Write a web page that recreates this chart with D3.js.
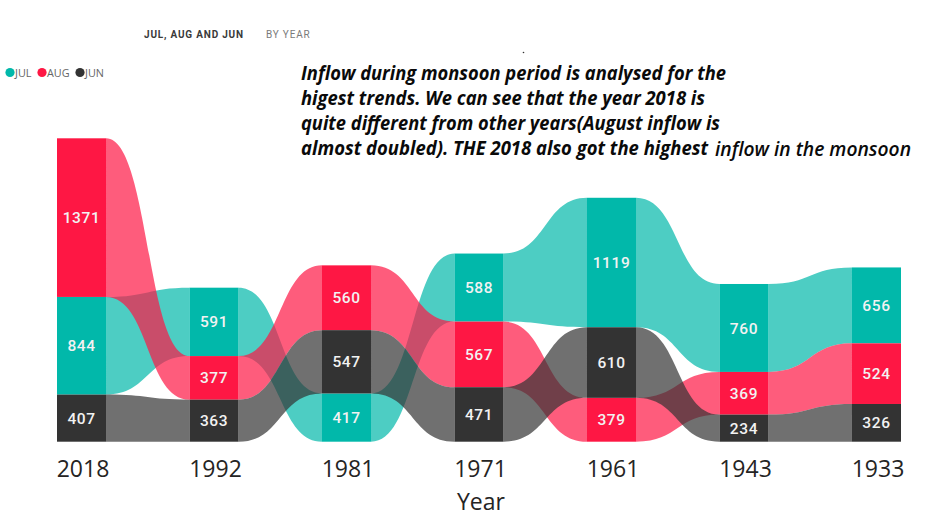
<!DOCTYPE html>
<html lang="en">
<head>
<meta charset="utf-8" />
<title>Monsoon inflow by year - ribbon chart</title>
<style>
html, body {
  margin: 0px;
  padding: 0px;
  background: #fff;
}
#chart {
  width: 939px;
  height: 521px;
}
.barLabel {
  font-family: Roboto, 'DejaVu Sans', sans-serif;
  font-weight: 500;
  font-size: 15.5px;
  fill: #f2f2f2;
  letter-spacing: 0.6px;
}
.axis text {
  font-family: 'Open Sans', 'Noto Sans', sans-serif;
  font-size: 23px;
  fill: #252423;
}
.note {
  font-family: 'Open Sans', 'Noto Sans', sans-serif;
  font-weight: bold;
  font-style: italic;
  font-size: 19px;
  fill: #0a0a0a;
}
</style>
</head>
<body>
<div id="chart"></div>

<script type="text/javascript" src="https://cdnjs.cloudflare.com/ajax/libs/d3/7.8.5/d3.min.js"></script>
<script>

var years = ["2018", "1992", "1981", "1971", "1961", "1943", "1933"];
var julValues = [844, 591, 417, 588, 1119, 760, 656];
var augValues = [1371, 377, 560, 567, 379, 369, 524];
var junValues = [407, 363, 547, 471, 610, 234, 326];

var seriesNames = ["JUL", "AUG", "JUN"];
var seriesColors = ["#01B8AA", "#FE1744", "#333333"];

var noteLines = [
  "Inflow during monsoon period is analysed for the",
  "higest trends. We can see that the year 2018 is",
  "quite different from other years(August inflow is",
  "almost doubled). THE 2018 also got the highest"
];
var noteTail = "inflow in the monsoon";

var series = [
  {name: seriesNames[0], color: seriesColors[0], values: julValues},
  {name: seriesNames[1], color: seriesColors[1], values: augValues},
  {name: seriesNames[2], color: seriesColors[2], values: junValues}
];

// ribbon chart: in every year the biggest value sits on top
var stacks = years.map(function(yr, i) {
  var items = series.map(function(s, si) {
    return {si: si, value: s.values[i]};
  });
  items.sort(function(a, b) { return a.value - b.value; });
  var acc = 0;
  var out = [];
  items.forEach(function(d) {
    out[d.si] = {y0: acc, y1: acc + d.value, value: d.value};
    acc += d.value;
  });
  out.total = acc;
  return out;
});

var svg = d3.select("#chart").append("svg")
  .attr("width", 939)
  .attr("height", 521);

var x = d3.scaleBand()
  .domain(years)
  .range([57, 901])
  .paddingInner(0.63)
  .paddingOuter(0);

var y = d3.scaleLinear()
  .domain([0, d3.max(stacks, function(d) { return d.total; })])
  .range([441.7, 138.3]);

var bw = x.bandwidth();

function ribbonPath(xa, a0, a1, xb, b0, b1) {
  var k = 0.52;
  var c1 = xa + (xb - xa) * k;
  var c2 = xb - (xb - xa) * k;
  var p = d3.path();
  p.moveTo(xa, a0);
  p.bezierCurveTo(c1, a0, c2, b0, xb, b0);
  p.lineTo(xb, b1);
  p.bezierCurveTo(c2, b1, c1, a1, xa, a1);
  p.closePath();
  return p.toString();
}

// ribbons between the bars
var ribbons = svg.append("g").attr("class", "ribbons");
series.forEach(function(s, si) {
  for (var i = 0; i < years.length - 1; i++) {
    var a = stacks[i][si];
    var b = stacks[i + 1][si];
    ribbons.append("path")
      .attr("d", ribbonPath(
        x(years[i]) + bw, y(a.y1), y(a.y0),
        x(years[i + 1]), y(b.y1), y(b.y0)))
      .attr("fill", s.color)
      .attr("fill-opacity", 0.7);
  }
});

// bars
var bars = svg.append("g").attr("class", "bars");
series.forEach(function(s, si) {
  bars.selectAll(".seg" + si)
    .data(years)
    .enter()
    .append("rect")
    .attr("x", function(d) { return x(d); })
    .attr("y", function(d, i) { return y(stacks[i][si].y1); })
    .attr("width", bw)
    .attr("height", function(d, i) { return y(stacks[i][si].y0) - y(stacks[i][si].y1); })
    .attr("fill", s.color);

  bars.selectAll(".lbl" + si)
    .data(years)
    .enter()
    .append("text")
    .attr("class", "barLabel")
    .attr("x", function(d) { return x(d) + bw / 2; })
    .attr("y", function(d, i) { return (y(stacks[i][si].y0) + y(stacks[i][si].y1)) / 2; })
    .attr("dy", "0.36em")
    .attr("text-anchor", "middle")
    .text(function(d, i) { return stacks[i][si].value; });
});

// x axis
var axis = svg.append("g")
  .attr("class", "axis")
  .attr("transform", "translate(1.5," + y(0) + ")")
  .call(d3.axisBottom(x).tickSize(0).tickPadding(18.5));
axis.select(".domain").remove();

svg.append("text")
  .attr("x", 481)
  .attr("y", 510)
  .attr("text-anchor", "middle")
  .style("font-family", "'Open Sans', 'Noto Sans', sans-serif")
  .style("font-size", "23px")
  .style("fill", "#252423")
  .text("Year");

// title
var title = svg.append("text")
  .attr("x", 144)
  .attr("y", 37.5)
  .style("font-family", "Roboto, 'DejaVu Sans', sans-serif")
  .style("font-size", "10px")
  .style("letter-spacing", "0.8px");
title.append("tspan")
  .attr("font-weight", "bold")
  .attr("fill", "#3a3a3a")
  .text("JUL, AUG AND JUN");
title.append("tspan")
  .attr("x", 266)
  .attr("fill", "#7a7a7a")
  .text("BY YEAR");

// legend
var legendX = [10, 42, 80];
var legend = svg.append("g").attr("class", "legend");
series.forEach(function(s, si) {
  legend.append("circle")
    .attr("cx", legendX[si])
    .attr("cy", 72.5)
    .attr("r", 4.6)
    .attr("fill", s.color);
  legend.append("text")
    .attr("x", legendX[si] + 5)
    .attr("y", 76.5)
    .style("font-family", "'Open Sans', 'Noto Sans', sans-serif")
    .style("font-size", "10.8px")
    .style("fill", "#666")
    .text(s.name);
});

// annotation
var noteEnds = [726, 705, 720, 708];
noteLines.forEach(function(line, i) {
  svg.append("text")
    .attr("class", "note")
    .attr("x", 301)
    .attr("y", 80 + i * 25)
    .attr("textLength", noteEnds[i] - 301)
    .attr("lengthAdjust", "spacingAndGlyphs")
    .text(line);
});
svg.append("text")
  .attr("class", "note")
  .attr("x", 715)
  .attr("y", 156)
  .attr("textLength", 911 - 715)
  .attr("lengthAdjust", "spacingAndGlyphs")
  .style("font-weight", "600")
  .text(noteTail);

svg.append("circle")
  .attr("cx", 523.5)
  .attr("cy", 52.5)
  .attr("r", 0.8)
  .attr("fill", "#333");

</script>
</body>
</html>
